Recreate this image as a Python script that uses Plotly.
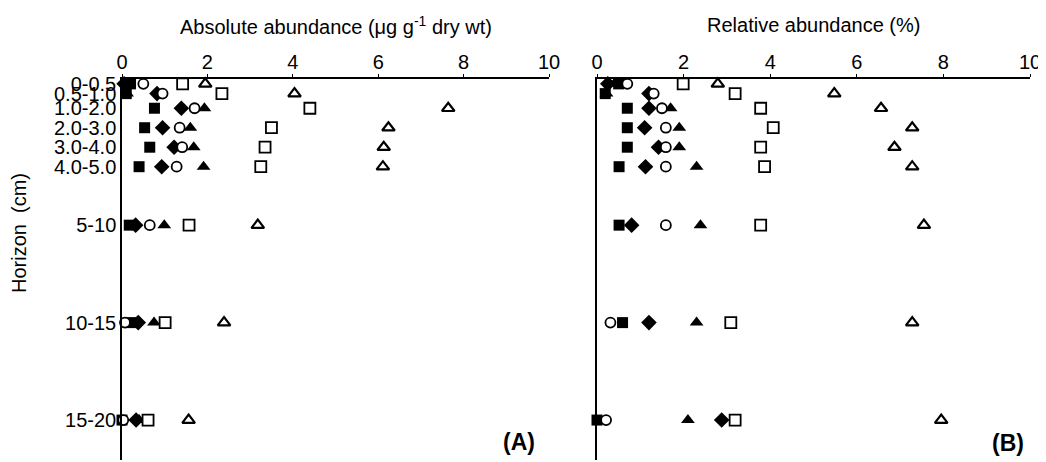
import plotly.graph_objects as go

# ---- data ----
horizons = ["0-0.5", "0.5-1.0", "1.0-2.0", "2.0-3.0", "3.0-4.0", "4.0-5.0", "5-10", "10-15", "15-20"]
depth_mid = [0.25, 0.75, 1.5, 2.5, 3.5, 4.5, 7.5, 12.5, 17.5]

# Absolute abundance (ug g-1 dry wt)
abs_sq_filled = [0.20, 0.10, 0.76, 0.53, 0.65, 0.40, 0.17, 0.23, 0.00]
abs_diamond = [0.05, 0.82, 1.39, 0.95, 1.22, 0.93, 0.32, 0.38, 0.33]
abs_tri_filled = [0.15, 0.12, 1.93, 1.60, 1.68, 1.91, 0.99, 0.75, 0.40]
abs_circle_open = [0.50, 0.95, 1.70, 1.35, 1.41, 1.28, 0.65, 0.07, 0.03]
abs_sq_open = [1.42, 2.34, 4.40, 3.50, 3.35, 3.25, 1.57, 1.01, 0.61]
abs_tri_open = [1.95, 4.04, 7.64, 6.24, 6.13, 6.11, 3.18, 2.39, 1.56]

# Relative abundance (%)
rel_sq_filled = [0.50, 0.19, 0.70, 0.70, 0.70, 0.51, 0.51, 0.59, 0.00]
rel_diamond = [0.25, 1.20, 1.20, 1.10, 1.42, 1.12, 0.80, 1.20, 2.88]
rel_tri_filled = [0.40, 0.22, 1.70, 1.90, 1.90, 2.30, 2.39, 2.30, 2.10]
rel_circle_open = [0.70, 1.31, 1.50, 1.59, 1.59, 1.59, 1.59, 0.31, 0.21]
rel_sq_open = [1.99, 3.19, 3.78, 4.07, 3.78, 3.87, 3.78, 3.09, 3.19]
rel_tri_open = [2.79, 5.48, 6.56, 7.28, 6.87, 7.28, 7.55, 7.28, 7.95]

x_ticks = [0, 2, 4, 6, 8, 10]

FONT = "Liberation Sans, Arial, Helvetica, sans-serif"

styles = [
    ("square", "black", 11, 0),
    ("diamond", "black", 12, 0),
    ("triangle-up", "black", 12, 0),
    ("circle", "white", 10, 1.8),
    ("square", "white", 11, 1.8),
    ("triangle-up", "white", 11, 2.2),
]

abs_series = [abs_sq_filled, abs_diamond, abs_tri_filled, abs_circle_open, abs_sq_open, abs_tri_open]
rel_series = [rel_sq_filled, rel_diamond, rel_tri_filled, rel_circle_open, rel_sq_open, rel_tri_open]

fig = go.Figure()
for series, xa, ya in ((abs_series, "x", "y"), (rel_series, "x2", "y2")):
    for vals, (sym, fill, size, lw) in zip(series, styles):
        fig.add_trace(go.Scatter(
            x=vals, y=depth_mid, mode="markers", xaxis=xa, yaxis=ya,
            cliponaxis=False, showlegend=False,
            marker=dict(symbol=sym, color=fill, size=size,
                        line=dict(color="black", width=lw)),
        ))

# page has an 8px default body margin; compensate
OFF = 8
W, H = 1046 - OFF, 462 - OFF
ml, mr, mt, mb = 122 - OFF, 16, 79 - OFF, 2
pw = W - ml - mr
ph = H - mt - mb
dA = [0, (549 - 122) / pw]
dB = [(597 - 122) / pw, 1]

xcommon = dict(side="top", range=[0, 10], tickmode="array", tickvals=x_ticks,
               ticks="outside", ticklen=3, tickcolor="black", tickwidth=1.3,
               ticklabelstandoff=-3,
               showline=True, linecolor="black", linewidth=1.5,
               showgrid=False, zeroline=False, automargin=False,
               tickfont=dict(family=FONT, size=20, color="black"))
ycommon = dict(range=[19.55, 0], showline=True, linecolor="black", linewidth=1.5,
               showgrid=False, zeroline=False, ticks="", automargin=False)

fig.update_layout(
    width=W, height=H,
    margin=dict(l=ml, r=mr, t=mt, b=mb),
    paper_bgcolor="white", plot_bgcolor="white",
    xaxis=dict(domain=dA, anchor="y", **xcommon),
    xaxis2=dict(domain=dB, anchor="y2", **xcommon),
    yaxis=dict(anchor="x", tickmode="array", tickvals=depth_mid, ticktext=horizons,
               tickfont=dict(family=FONT, size=20, color="black"), **ycommon),
    yaxis2=dict(anchor="x2", showticklabels=False, **ycommon),
)

def py(pix):
    return 1 - (pix - 79) / ph

def px(pix):
    return (pix - 122) / pw

ann = [
    dict(text="Absolute abundance (μg g<sup>-1</sup> dry wt)", x=(dA[0] + dA[1]) / 2, y=py(25),
         font=dict(size=20)),
    dict(text="Relative abundance (%)", x=(dB[0] + dB[1]) / 2, y=py(25), font=dict(size=20)),
    dict(text="Horizon  (cm)", x=px(19), y=py(233), textangle=-90, font=dict(size=20)),
    dict(text="<b>(A)</b>", x=px(519), y=py(442), font=dict(size=23)),
    dict(text="<b>(B)</b>", x=px(1008), y=py(443), font=dict(size=23)),
]
for a in ann:
    a.update(xref="paper", yref="paper", showarrow=False, xanchor="center", yanchor="middle")
    a["font"].update(family=FONT, color="black")
    fig.add_annotation(**a)

fig.write_html("out.html")
